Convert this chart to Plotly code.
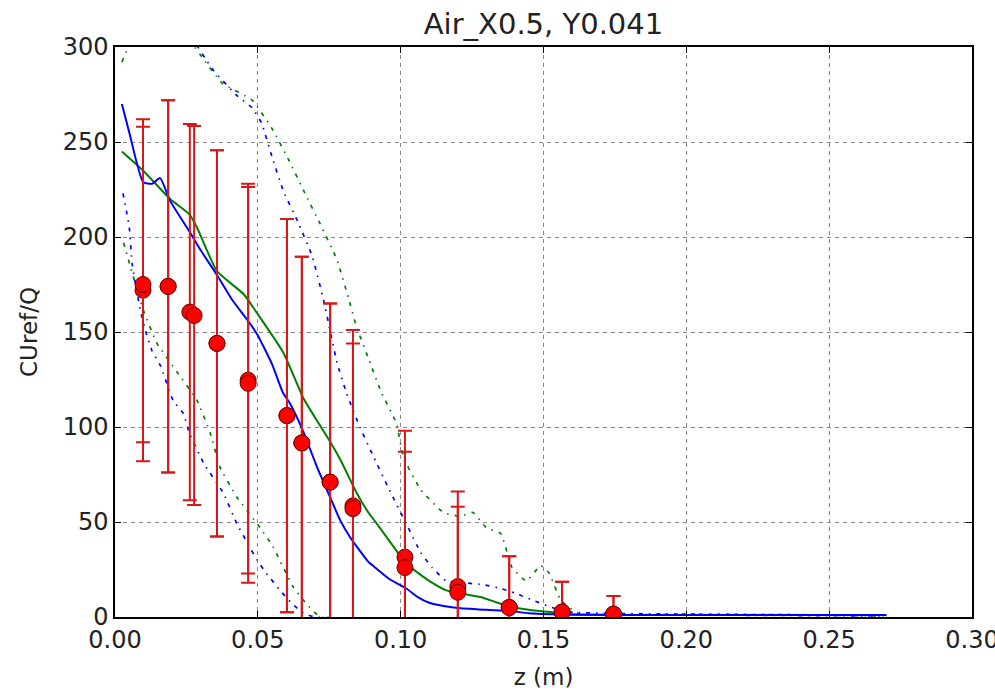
import plotly.graph_objects as go

# ---------------- data ----------------
# simulation mean (solid) lines
blue_x = [0.0024, 0.005, 0.0098, 0.013, 0.0158, 0.0193, 0.026, 0.030, 0.0357, 0.041, 0.046, 0.0497,
          0.055, 0.0588, 0.061, 0.0658, 0.0707, 0.0753, 0.0788, 0.0823, 0.0887, 0.0903, 0.096, 0.102,
          0.106, 0.110, 0.115, 0.120, 0.130, 0.139, 0.145, 0.160, 0.200, 0.270]
blue_y = [270, 255, 229, 228, 231, 219, 203, 193, 180, 167, 157, 149,
          133, 118, 113, 98, 79, 63, 51, 42, 29, 27, 20, 15,
          10.5, 7.5, 5.8, 4.8, 3.8, 3, 2, 1.2, 1, 1]

green_x = [0.0024, 0.0098, 0.0193, 0.026, 0.0287, 0.0357, 0.045, 0.0497, 0.059, 0.066, 0.075, 0.0788,
           0.0847, 0.0887, 0.0917, 0.0975, 0.102, 0.110, 0.116, 0.128, 0.137, 0.146, 0.153, 0.160,
           0.200, 0.270]
green_y = [245, 235, 220, 212, 205, 182, 170, 160, 139, 115, 93, 83,
           65, 55, 49, 37, 28, 19, 14, 10.5, 6, 3.5, 2.5, 1.5,
           1, 1]

# simulation mean +/- std (dash-dot) lines
blue_up_x = [0.0024, 0.010, 0.020, 0.026, 0.0343, 0.043, 0.048, 0.0513, 0.055, 0.059, 0.064, 0.069,
             0.073, 0.0777, 0.081, 0.0857, 0.090, 0.096, 0.102, 0.107, 0.111, 0.116, 0.122, 0.129,
             0.135, 0.140, 0.146, 0.153, 0.160, 0.200, 0.270]
blue_up_y = [317, 330, 322, 307, 288, 274, 268, 260, 242, 224, 208, 190,
             167, 134, 118, 100, 86, 67, 49, 34, 26, 19, 18, 17,
             15, 12.6, 9, 5, 2.5, 1.5, 1]

green_up_x = [0.0024, 0.008, 0.015, 0.022, 0.0298, 0.0375, 0.048, 0.055, 0.061, 0.0665, 0.0718, 0.0777,
              0.0817, 0.0845, 0.089, 0.0933, 0.0985, 0.101, 0.107, 0.115, 0.121, 0.1253, 0.130, 0.135,
              0.139, 0.144, 0.149, 0.152, 0.156, 0.162, 0.200, 0.270]
green_up_y = [292, 310, 318, 312, 296, 281, 272, 257, 240, 223, 207, 188,
              168, 153, 135, 118, 102, 84, 67, 55, 53, 55, 47, 44,
              26, 19, 27, 23, 9, 2, 1.5, 1]

blue_lo_x = [0.0028, 0.0042, 0.005, 0.006, 0.0088, 0.011, 0.013, 0.016, 0.0203, 0.024, 0.026, 0.031,
             0.038, 0.0427, 0.046, 0.0497, 0.053, 0.0578, 0.062, 0.066, 0.070, 0.270]
blue_lo_y = [223, 212, 205, 186, 162, 149, 140, 132, 114, 107, 97, 81,
             65, 49, 40, 30, 23, 14, 7, 2, 0, 0]

green_lo_x = [0.003, 0.0098, 0.0147, 0.0217, 0.0287, 0.0333, 0.0367, 0.0427, 0.0508, 0.0553, 0.0623,
              0.067, 0.072, 0.270]
green_lo_y = [197, 162, 144, 129, 114, 97, 79, 63, 47, 37, 16, 7, 0, 0]

# experimental data (two overlaid sets)
exp1_x = [0.0098, 0.0186, 0.0262, 0.0357, 0.0466, 0.0602, 0.0654, 0.0753, 0.0833, 0.1015, 0.120,
          0.138, 0.1565, 0.1745]
exp1_y = [172, 174, 160.5, 144, 124.6, 106, 91.6, 71, 58.5, 31.5, 16, 5, 2.6, 1.5]
exp1_err = [90, 98, 99, 101.6, 101.7, 103.5, 98, 94, 92.5, 66.5, 50, 27, 16, 9.5]

exp2_x = [0.0098, 0.0186, 0.0277, 0.0357, 0.0466, 0.0602, 0.0654, 0.0753, 0.0833, 0.1015, 0.120,
          0.138, 0.1565, 0.1745]
exp2_y = [175, 174, 158.7, 144, 123, 106, 91.6, 71, 57, 26, 13, 5, 2.6, 1.5]
exp2_err = [83, 98, 99.7, 101.6, 105, 103.5, 98, 94, 87, 61, 45, 27, 16, 9.5]

x_ticks = [0.00, 0.05, 0.10, 0.15, 0.20, 0.25, 0.30]
y_ticks = [0, 50, 100, 150, 200, 250, 300]

# ---------------- figure ----------------
BLUE = "#0000ff"
GREEN = "#008000"
RED = "#ff0000"
DASHDOT = "4px,6px,1.5px,6px"

fig = go.Figure()

for xs, ys, col in [(green_up_x, green_up_y, GREEN), (blue_up_x, blue_up_y, BLUE),
                    (green_lo_x, green_lo_y, GREEN), (blue_lo_x, blue_lo_y, BLUE)]:
    fig.add_trace(go.Scatter(x=xs, y=ys, mode="lines",
                             line=dict(color=col, width=1.7, dash=DASHDOT, shape="spline", smoothing=0.4),
                             showlegend=False, hoverinfo="skip"))

fig.add_trace(go.Scatter(x=green_x, y=green_y, mode="lines",
                         line=dict(color=GREEN, width=2, shape="spline", smoothing=0.5),
                         showlegend=False))
fig.add_trace(go.Scatter(x=blue_x, y=blue_y, mode="lines",
                         line=dict(color=BLUE, width=2, shape="spline", smoothing=0.5),
                         showlegend=False))

for xs, ys, es in [(exp1_x, exp1_y, exp1_err), (exp2_x, exp2_y, exp2_err)]:
    fig.add_trace(go.Scatter(x=xs, y=ys, mode="markers",
                             marker=dict(color=RED, size=16, line=dict(color="#6a0000", width=1)),
                             error_y=dict(type="data", array=es, visible=True, color="#d81818",
                                          thickness=2, width=7),
                             showlegend=False))

axis_common = dict(
    showline=True, linecolor="black", linewidth=1.5, mirror="allticks",
    ticks="inside", ticklen=6, tickwidth=1, tickcolor="black",
    showgrid=True, gridcolor="#8a8a8a", gridwidth=1, griddash="4px,4px",
    zeroline=False, ticklabeloverflow="allow", automargin=False,
    tickfont=dict(family="DejaVu Sans", size=24, color="#222222"),
)

fig.update_xaxes(range=[0, 0.30], tickvals=x_ticks, tickformat=".2f",
                 title=dict(text="z (m)", font=dict(family="DejaVu Sans", size=23, color="#222222"),
                            standoff=16),
                 **axis_common)
fig.update_yaxes(range=[0, 300], tickvals=y_ticks,
                 title=dict(text="CUref/Q", font=dict(family="DejaVu Sans", size=23, color="#222222"),
                            standoff=19),
                 **axis_common)

fig.update_layout(
    width=995, height=694,
    margin=dict(l=115, r=23, t=47, b=77),
    paper_bgcolor="white", plot_bgcolor="white",
    title=dict(text="Air_X0.5, Y0.041", x=0.5, xref="paper", xanchor="center",
               y=1, yref="paper", yanchor="bottom", pad=dict(b=13),
               font=dict(family="DejaVu Sans", size=29, color="#222222")),
    showlegend=False,
)

fig.write_html("out.html")
